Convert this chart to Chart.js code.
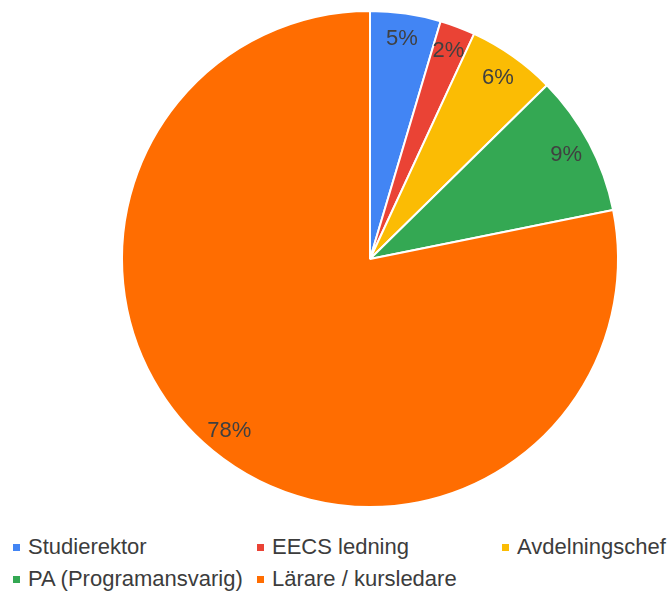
<!DOCTYPE html>
<html>
<head>
<meta charset="utf-8">
<script src="https://cdn.jsdelivr.net/npm/chart.js@4"></script>
<style>
  body { margin: 0; background: #fff; }
  #wrap { position: absolute; left: 0; top: 0; width: 670px; height: 520px; }
  #legend {
    position: absolute; left: 13px; top: 534px;
    display: grid; grid-template-columns: 244px 245px auto; row-gap: 6px;
    font-family: "Liberation Sans", Arial, sans-serif; font-size: 22px; color: #3c3c3c;
  }
  .item { display: flex; align-items: center; height: 26px; white-space: nowrap; }
  .box { width: 7px; height: 7px; margin-right: 8px; flex: none; }
</style>
</head>
<body>
<div id="wrap"><canvas id="pie"></canvas></div>
<div id="legend"></div>
<script>
const labels = ['Studierektor', 'EECS ledning', 'Avdelningschef', 'PA (Programansvarig)', 'Lärare / kursledare'];
const counts = [4, 2, 5, 8, 68];
const colors = ['#4285F4', '#EA4335', '#FBBC04', '#34A853', '#FF6D01'];

const total = counts.reduce((a, b) => a + b, 0);

// percent labels drawn inside each slice
const sliceLabels = {
    id: 'sliceLabels',
    afterDatasetsDraw(chart) {
        const ctx = chart.ctx;
        const meta = chart.getDatasetMeta(0);
        ctx.save();
        ctx.font = '22px "Liberation Sans", Arial, sans-serif';
        ctx.fillStyle = '#404040';
        ctx.textAlign = 'center';
        ctx.textBaseline = 'middle';
        meta.data.forEach((arc, i) => {
            const p = arc.getProps(['x', 'y', 'startAngle', 'endAngle', 'outerRadius'], true);
            const mid = (p.startAngle + p.endAngle) / 2;
            const r = p.outerRadius * 0.895;
            const text = Math.round(counts[i] / total * 100) + '%';
            ctx.fillText(text, p.x + Math.cos(mid) * r, p.y + Math.sin(mid) * r);
        });
        ctx.restore();
    }
};

new Chart(document.getElementById('pie'), {
    type: 'pie',
    data: {
        labels: labels,
        datasets: [{
            data: counts,
            backgroundColor: colors,
            borderColor: '#ffffff',
            borderWidth: 2
        }]
    },
    options: {
        responsive: true,
        maintainAspectRatio: false,
        animation: false,
        layout: { padding: { left: 121, right: 51, top: 10, bottom: 12 } },
        plugins: {
            legend: { display: false },
            tooltip: { enabled: false }
        }
    },
    plugins: [sliceLabels]
});

// legend below the pie
const legend = document.getElementById('legend');
labels.forEach((name, i) => {
    const item = document.createElement('div');
    item.className = 'item';
    item.innerHTML = '<span class="box" style="background:' + colors[i] + '"></span><span>' + name + '</span>';
    legend.appendChild(item);
});
</script>
</body>
</html>
